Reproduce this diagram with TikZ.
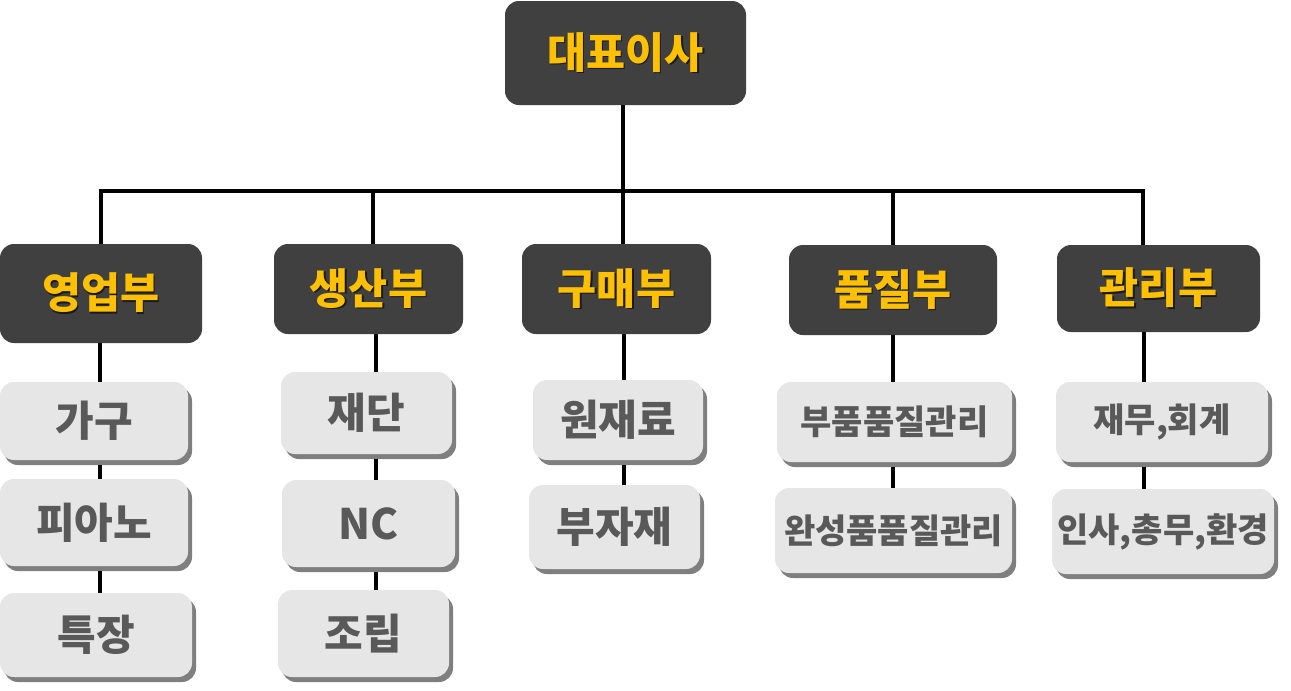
\documentclass[tikz,border=0pt]{standalone}
\usepackage{fontspec}
\setmainfont{Noto Sans CJK KR}
\usetikzlibrary{shadows}
\definecolor{darkbox}{HTML}{404040}
\definecolor{hdr}{HTML}{FFC000}
\definecolor{lightbox}{HTML}{E6E6E6}
\definecolor{shgray}{HTML}{7F7F7F}
\definecolor{subtxt}{HTML}{595959}
\definecolor{txtsh}{HTML}{1A1A1A}
\newcommand\shtxt[1]{\leavevmode\rlap{\kern1.4pt\raisebox{-1.4pt}{\textcolor{txtsh}{#1}}}\textcolor{hdr}{#1}}
\tikzset{
  head/.style={fill=darkbox, rounded corners=14pt, inner sep=0pt, font=\fontsize{42.5}{44}\selectfont\bfseries},
  sub/.style={fill=lightbox, rounded corners=14pt, inner sep=0pt, text=subtxt,
     font=\fontsize{42}{44}\selectfont\bfseries,
     drop shadow={shadow xshift=4pt, shadow yshift=-5pt, fill=shgray, opacity=1}},
  subs/.style={sub, font=\fontsize{34}{36}\selectfont\bfseries},
  conn/.style={line width=3.5pt, black}
}
\begin{document}
\begin{tikzpicture}[x=1pt,y=-1pt]
\useasboundingbox (0,0) rectangle (1291,691);
% top
\node[head, minimum width=241pt, minimum height=104pt] (ceo) at (625.5,53) {\shtxt{대표이사}};
% departments
\node[head, minimum width=202pt, minimum height=99pt] (yb) at (101,293.5) {\shtxt{영업부}};
\node[head, minimum width=189pt, minimum height=90pt] (sb) at (368.5,289) {\shtxt{생산부}};
\node[head, minimum width=189pt, minimum height=90pt] (gb) at (616.5,289) {\shtxt{구매부}};
\node[head, minimum width=208pt, minimum height=90pt] (pb) at (893,290) {\shtxt{품질부}};
\node[head, minimum width=203pt, minimum height=87pt] (kb) at (1158.5,288.5) {\shtxt{관리부}};
% sub boxes
\node[sub, minimum width=188pt, minimum height=78pt] (ga) at (94,421) {가구};
\node[sub, minimum width=188pt, minimum height=87pt] (pi) at (94,522.5) {피아노};
\node[sub, minimum width=192pt, minimum height=84pt] (tk) at (96,635) {특장};
\node[sub, minimum width=171pt, minimum height=82pt] (jd) at (366.5,413) {재단};
\node[sub, minimum width=173pt, minimum height=87pt] (nc) at (368.5,523.5) {NC};
\node[sub, minimum width=171pt, minimum height=87pt] (jr) at (363.5,633.5) {조립};
\node[sub, minimum width=170pt, minimum height=80pt] (wj) at (618,420) {원재료};
\node[sub, minimum width=171pt, minimum height=84pt] (bj) at (614.5,527) {부자재};
\node[subs, minimum width=235pt, minimum height=80pt] (bq) at (894.5,422) {부품품질관리};
\node[subs, minimum width=237pt, minimum height=85pt] (wq) at (893.5,530.5) {완성품품질관리};
\node[subs, minimum width=212pt, minimum height=80pt] (jm) at (1162,422) {재무,회계};
\node[subs, minimum width=222pt, minimum height=85pt] (is) at (1163,531.5) {인사,총무,환경};
% bus and column coordinates
\coordinate (busl) at (99,191);
\coordinate (busr) at (1145,191);
\coordinate (c1) at (101,191);
\coordinate (c2) at (373,191);
\coordinate (c3) at (623,191);
\coordinate (c4) at (893,191);
\coordinate (c5) at (1143,191);
\coordinate (d1) at (100,191);
\coordinate (d2) at (376,191);
\coordinate (d3) at (624,191);
\coordinate (d4) at (893,191);
\coordinate (d5) at (1144,191);
\draw[conn] (ceo.south -| c3) -- (c3);
\draw[conn] (busl) -- (busr);
\draw[conn] (c1) -- (c1 |- yb.north);
\draw[conn] (c2) -- (c2 |- sb.north);
\draw[conn] (c3) -- (c3 |- gb.north);
\draw[conn] (c4) -- (c4 |- pb.north);
\draw[conn] (c5) -- (c5 |- kb.north);
% lower connectors
\draw[conn] (yb.south -| d1) -- (ga.north -| d1);
\draw[conn] ([yshift=-5pt]ga.south -| d1) -- (pi.north -| d1);
\draw[conn] ([yshift=-5pt]pi.south -| d1) -- (tk.north -| d1);
\draw[conn] (sb.south -| d2) -- (jd.north -| d2);
\draw[conn] ([yshift=-5pt]jd.south -| d2) -- (nc.north -| d2);
\draw[conn] ([yshift=-5pt]nc.south -| d2) -- (jr.north -| d2);
\draw[conn] (gb.south -| d3) -- (wj.north -| d3);
\draw[conn] ([yshift=-5pt]wj.south -| d3) -- (bj.north -| d3);
\draw[conn] (pb.south -| d4) -- (bq.north -| d4);
\draw[conn] ([yshift=-5pt]bq.south -| d4) -- (wq.north -| d4);
\draw[conn] (kb.south -| d5) -- (jm.north -| d5);
\draw[conn] ([yshift=-5pt]jm.south -| d5) -- (is.north -| d5);
\end{tikzpicture}
\end{document}
